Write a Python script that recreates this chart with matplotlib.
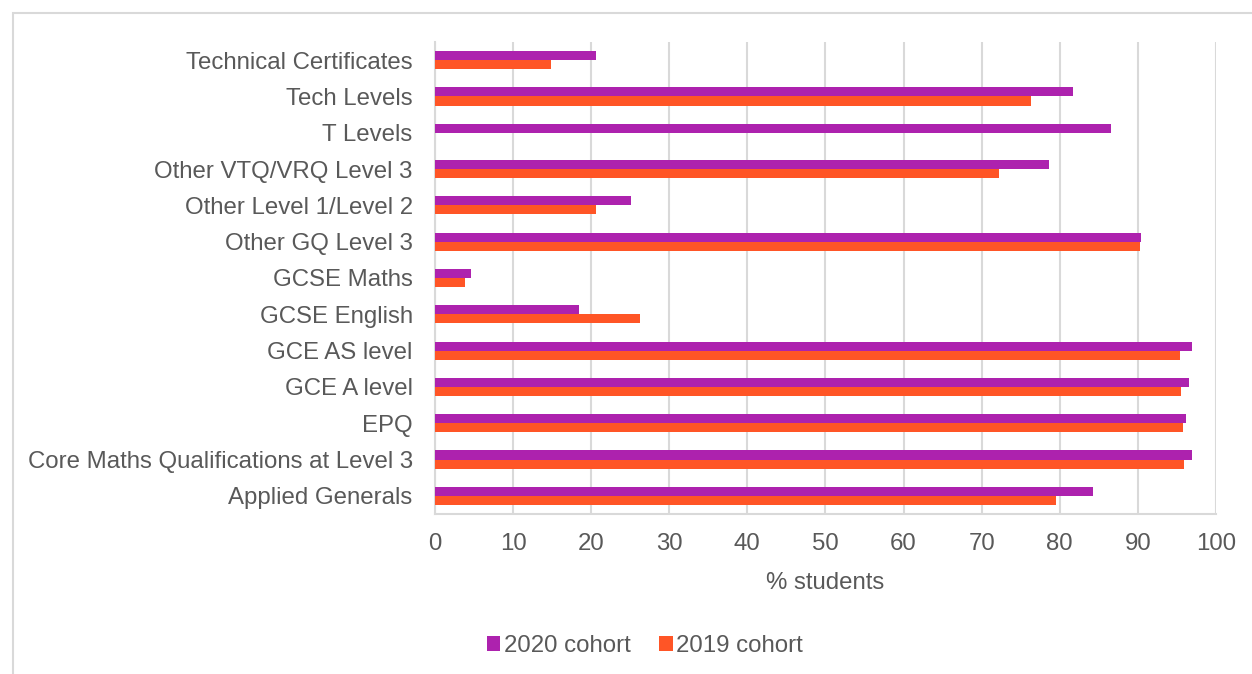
import matplotlib.pyplot as plt
from matplotlib.patches import Rectangle
import numpy as np

plt.rcParams['font.family'] = ['Liberation Sans', 'DejaVu Sans']

# categories listed bottom to top
categories = ["Applied Generals", "Core Maths Qualifications at Level 3", "EPQ",
              "GCE A level", "GCE AS level", "GCSE English", "GCSE Maths",
              "Other GQ Level 3", "Other Level 1/Level 2", "Other VTQ/VRQ Level 3",
              "T Levels", "Tech Levels", "Technical Certificates"]
cohort_2020 = [84.2, 96.9, 96.2, 96.5, 96.9, 18.5, 4.6, 90.4, 25.1, 78.6, 86.6, 81.7, 20.6]
cohort_2019 = [79.5, 95.9, 95.8, 95.5, 95.4, 26.3, 3.9, 90.3, 20.6, 72.2, np.nan, 76.3, 14.9]
x_ticks = list(range(0, 101, 10))

purple = '#AD22AE'
orange = '#FF5526'
txt = '#595959'
grid = '#D9D9D9'
fs = 17.3

fig = plt.figure(figsize=(12.52, 6.74), dpi=100)
ax = fig.add_axes([0.3474, 0.2374, 0.9712 - 0.3474, 0.9377 - 0.2374])

y = np.arange(len(categories))
h = 0.25
ax.barh(y + h / 2, cohort_2020, height=h, color=purple, label='2020 cohort', zorder=3)
ax.barh(y - h / 2, cohort_2019, height=h, color=orange, label='2019 cohort', zorder=3)

ax.set_xlim(0, 100)
ax.set_ylim(-0.5, len(categories) - 0.5)
ax.set_xticks(x_ticks)
ax.set_yticks(y)
ax.set_yticklabels(categories)
ax.tick_params(axis='both', length=0, labelsize=fs, colors=txt)
ax.tick_params(axis='y', pad=16)
ax.tick_params(axis='x', pad=14)
ax.xaxis.grid(True, color=grid, linewidth=1.5, zorder=0)
for s in ['top', 'right']:
    ax.spines[s].set_visible(False)
for s in ['left', 'bottom']:
    ax.spines[s].set_color(grid)
    ax.spines[s].set_linewidth(1.5)

ax.set_xlabel('% students', fontsize=fs, color=txt, labelpad=12)

leg = fig.legend(loc='center', bbox_to_anchor=(645 / 1252, 1 - 646 / 674), ncol=2,
                 frameon=False, fontsize=fs, handlelength=0.55, handleheight=0.55,
                 handletextpad=0.15, columnspacing=1.2)
for t in leg.get_texts():
    t.set_color(txt)

fig.patches.append(Rectangle((13 / 1252, -0.05), 1.1, 1 - 13 / 674 + 0.05,
                             transform=fig.transFigure, fill=False,
                             edgecolor=grid, linewidth=1.5))

fig.savefig('out.png', dpi=100, facecolor='white')
